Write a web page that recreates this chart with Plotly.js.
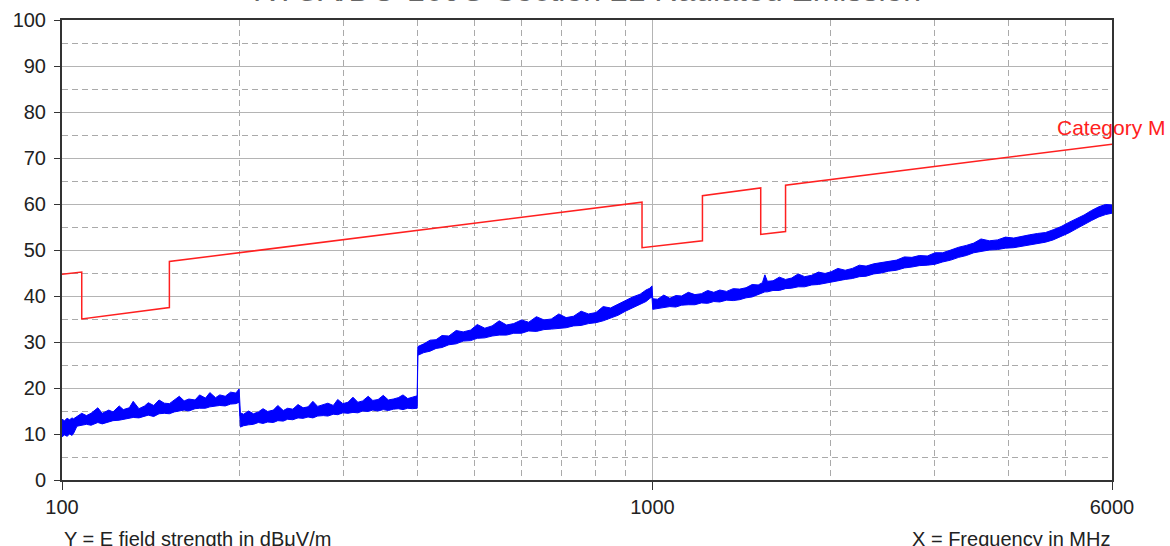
<!DOCTYPE html>
<html>
<head>
<meta charset="utf-8">
<script src="https://cdn.plot.ly/plotly-3.0.1.min.js"></script>
<style>html,body{margin:0;padding:0;background:#fff;}#chart{width:1170px;height:546px;}</style>
</head>
<body>
<div id="chart"></div>
<script>
// ---- Data ----
const chartTitle = "RTCA/DO-160G Section 21 Radiated Emission";
const xTickVals = [100, 1000, 6000];
const xTickText = ["100", "1000", "6000"];
const xMinorVals = [200, 300, 400, 500, 600, 700, 800, 900, 2000, 3000, 4000, 5000];

// Limit line (Category M), MHz / dBuV/m
const limitFreq = [100, 108, 108, 152, 152, 960, 960, 1215, 1215, 1525, 1525, 1680, 1680, 6000];
const limitLevel = [44.7, 45.2, 35.0, 37.5, 47.5, 60.4, 50.5, 52.0, 61.8, 63.5, 53.4, 54.0, 64.1, 73.0];

// Measured trace, lower and upper envelope of the noisy sweep
const measFreq = [
  100, 101, 102, 103, 104, 104.6, 106, 108, 110, 112, 115, 117, 120, 122, 125, 127, 130, 132, 135, 138,
  140, 143, 146, 149, 152, 155, 158, 161, 164, 168, 171, 175, 178, 182, 185, 189, 193, 197, 199.5,
  200.5, 203, 207, 211, 215, 219, 223, 228, 232, 237, 241, 246, 251, 256, 261, 266, 271, 277, 282, 288,
  293, 299, 305, 311, 317, 323, 330, 336, 343, 350, 357, 364, 371, 378, 385, 392, 399.5,
  400.5, 410, 420, 430, 440, 452, 465, 478, 492, 505, 520, 535, 550, 566, 582, 600, 617, 636, 655, 674,
  694, 714, 735, 757, 779, 802, 825, 849, 874, 900, 926, 953, 975, 990, 998,
  1001, 1020, 1045, 1070, 1095, 1120, 1150, 1180, 1210, 1240, 1270, 1300, 1335, 1370, 1405, 1440, 1475, 1510, 1535, 1550,
  1565, 1600, 1640, 1680, 1720, 1765, 1810, 1860, 1910, 1960, 2010, 2060, 2120, 2180, 2240, 2300, 2370, 2440, 2510, 2590,
  2670, 2750, 2830, 2920, 3010, 3100, 3200, 3300, 3400, 3500, 3600, 3720, 3840, 3960, 4090, 4220, 4350, 4490, 4630, 4770,
  4920, 5070, 5220, 5380, 5540, 5700, 5850, 6000
];
const measLow = [
  9.4, 9.8, 9.5, 10.0, 9.7, 10.1, 11.7, 11.9, 12.1, 11.9, 12.5, 12.2, 12.6, 12.9, 13.0, 13.2, 13.4, 13.6, 13.5, 13.9,
  14.1, 13.8, 14.4, 14.5, 14.4, 14.8, 15.0, 15.2, 15.0, 15.5, 15.6, 15.6, 15.9, 16.0, 16.2, 16.1, 16.5, 16.6, 16.9,
  11.5, 11.8, 12.0, 12.1, 12.5, 12.3, 12.6, 12.5, 12.9, 12.8, 13.2, 13.1, 13.5, 13.4, 13.7, 13.5, 13.9, 14.0, 13.9, 14.3,
  14.2, 14.6, 14.5, 14.7, 14.6, 15.0, 14.9, 15.2, 15.0, 15.3, 15.1, 15.4, 15.5, 15.3, 15.6, 15.5, 15.6,
  27.1, 27.7, 28.0, 28.6, 28.8, 29.4, 29.6, 30.2, 30.3, 30.8, 30.9, 31.3, 31.5, 31.5, 31.9, 31.9, 32.4, 32.3, 32.7, 32.8,
  33.0, 33.1, 33.5, 33.6, 34.0, 34.2, 34.6, 35.2, 35.8, 36.7, 37.4, 38.2, 38.8, 39.5, 39.8,
  37.1, 37.3, 37.4, 37.7, 37.6, 38.0, 38.1, 38.1, 38.5, 38.4, 38.8, 38.7, 39.1, 39.0, 39.2, 39.6, 39.8, 40.3, 40.6, 40.9,
  40.9, 41.2, 41.2, 41.6, 41.7, 42.0, 42.0, 42.4, 42.5, 42.8, 43.1, 43.3, 43.6, 43.8, 44.2, 44.3, 44.8, 45.0, 45.4, 45.6,
  46.1, 46.3, 46.6, 46.7, 46.9, 47.4, 47.8, 48.4, 48.8, 49.4, 49.7, 50.0, 50.1, 50.4, 50.5, 50.8, 51.0, 51.4, 51.7, 52.2,
  52.9, 53.7, 54.6, 55.6, 56.4, 57.2, 57.7, 58.0
];
const measHigh = [
  13.2, 12.9, 13.4, 13.1, 13.5, 13.3, 13.8, 14.5, 14.0, 14.5, 15.7, 14.5, 15.2, 14.8, 16.1, 15.3, 15.7, 17.1, 15.5, 16.1,
  16.8, 16.2, 17.4, 16.7, 16.6, 17.5, 18.2, 17.2, 17.6, 17.4, 18.5, 17.8, 19.0, 17.9, 18.5, 18.2, 19.1, 18.9, 19.8,
  14.6, 14.3, 15.0, 14.4, 14.8, 15.5, 14.9, 15.2, 16.2, 15.1, 15.6, 15.4, 16.4, 15.7, 15.9, 17.1, 16.0, 16.3, 16.7, 16.2,
  17.5, 16.6, 16.9, 18.0, 16.9, 17.2, 18.2, 17.3, 17.5, 18.4, 17.4, 17.6, 17.9, 18.5, 17.7, 18.0, 18.3,
  29.0, 29.6, 30.4, 30.5, 31.4, 31.3, 32.5, 32.2, 32.6, 33.8, 33.0, 33.5, 34.6, 33.7, 34.0, 34.8, 34.3, 35.5, 34.8, 35.0,
  36.1, 35.3, 35.6, 36.7, 36.1, 36.4, 37.7, 37.4, 38.2, 39.1, 39.8, 40.4, 41.3, 41.7, 42.2,
  39.4, 39.3, 40.2, 39.5, 40.1, 40.0, 40.8, 40.3, 40.5, 41.2, 40.8, 41.3, 41.0, 41.6, 41.5, 41.8, 42.5, 42.4, 42.9, 44.6,
  43.2, 43.3, 44.1, 43.6, 43.9, 44.8, 44.2, 44.5, 45.2, 44.9, 45.3, 46.0, 45.6, 46.0, 46.7, 46.5, 47.0, 47.3, 47.6, 47.8,
  48.5, 48.4, 48.8, 48.7, 49.4, 49.4, 50.0, 50.6, 51.0, 51.5, 52.4, 52.0, 52.2, 52.8, 52.6, 53.0, 53.3, 53.6, 53.8, 54.4,
  55.1, 56.0, 56.8, 57.6, 58.6, 59.4, 59.9, 59.8
];

// ---- Chart ----
const FONT = "Liberation Sans, Arial, sans-serif";
const traces = [
  { x: measFreq, y: measLow, type: "scatter", mode: "lines",
    line: { color: "#0000ff", width: 1 }, hoverinfo: "skip", showlegend: false },
  { x: measFreq, y: measHigh, type: "scatter", mode: "lines", fill: "tonexty",
    fillcolor: "#0000ff", line: { color: "#0000ff", width: 1 }, hoverinfo: "skip", showlegend: false },
  { x: limitFreq, y: limitLevel, type: "scatter", mode: "lines",
    line: { color: "#ff2020", width: 1.5 }, hoverinfo: "skip", showlegend: false }
];

const layout = {
  width: 1170, height: 546,
  margin: { l: 62, r: 58, t: 20, b: 66, pad: 0 },
  paper_bgcolor: "#ffffff", plot_bgcolor: "#ffffff",
  font: { family: FONT, size: 20, color: "#222" },
  showlegend: false,
  xaxis: {
    type: "log", range: [2, Math.log10(6000)],
    tickmode: "array", tickvals: xTickVals, ticktext: xTickText,
    ticks: "outside", ticklen: 8, tickcolor: "#333", tickwidth: 1,
    showgrid: true, gridcolor: "#b4b4b4", gridwidth: 1,
    showline: true, mirror: true, linecolor: "#333", linewidth: 2,
    zeroline: false,
    tickfont: { family: FONT, size: 20, color: "#222" },
    minor: { tickmode: "array", tickvals: xMinorVals, ticks: "", showgrid: true,
             gridcolor: "#aaaaaa", gridwidth: 1, griddash: "6px,4px" }
  },
  yaxis: {
    range: [0, 100], tickmode: "linear", tick0: 0, dtick: 10,
    ticks: "outside", ticklen: 6, tickcolor: "#333", tickwidth: 1,
    ticklabelstandoff: 4,
    showgrid: true, gridcolor: "#b4b4b4", gridwidth: 1,
    showline: true, mirror: true, linecolor: "#333", linewidth: 2,
    zeroline: false,
    tickfont: { family: FONT, size: 20, color: "#222" },
    minor: { tickmode: "linear", tick0: 0, dtick: 5, ticks: "", showgrid: true,
             gridcolor: "#aaaaaa", gridwidth: 1, griddash: "6px,4px" }
  },
  annotations: [
    { text: chartTitle, xref: "paper", yref: "paper", x: 0.5, y: 1.0225,
      xanchor: "center", yanchor: "bottom", showarrow: false,
      font: { family: FONT, size: 32, color: "#666" } },
    { text: "Category M", xref: "x", yref: "y", x: Math.log10(4800), y: 76.6,
      xanchor: "left", yanchor: "middle", showarrow: false,
      font: { family: FONT, size: 21, color: "#ff2020" } },
    { text: "Y = E field strength in dBμV/m", xref: "paper", yref: "paper", x: 0, y: -0.099,
      xanchor: "left", yanchor: "top", showarrow: false,
      font: { family: FONT, size: 20, color: "#222" } },
    { text: "X = Frequency in MHz", xref: "paper", yref: "paper", x: 1, y: -0.099,
      xanchor: "right", yanchor: "top", showarrow: false,
      font: { family: FONT, size: 20, color: "#222" } }
  ]
};

Plotly.newPlot("chart", traces, layout, { staticPlot: true, displayModeBar: false });
</script>
</body>
</html>
